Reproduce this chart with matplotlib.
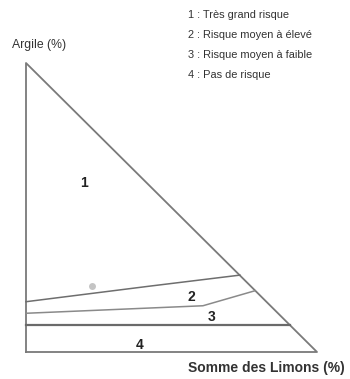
import matplotlib
matplotlib.use("Agg")
import matplotlib.pyplot as plt

# triangle outline: (Limons %, Argile %)
triangle_x = [0, 0, 100, 0]
triangle_y = [0, 100, 0, 0]

# class boundaries
line_a_x = [0, 42.6, 73.5]
line_a_y = [17.4, 22.8, 26.6]
line_b_x = [0, 60.8, 78.7]
line_b_y = [13.4, 16.0, 21.2]
line_c_x = [0, 90.8]
line_c_y = [9.2, 9.2]

zone_labels = ["1", "2", "3", "4"]
zone_x = [19.9, 56.7, 63.8, 39.2]
zone_y = [58.6, 19.0, 12.1, 2.4]

legend_labels = [
    "1 : Très grand risque",
    "2 : Risque moyen à élevé",
    "3 : Risque moyen à faible",
    "4 : Pas de risque",
]

FONT = ["Liberation Sans Narrow", "Liberation Sans", "DejaVu Sans"]
plt.rcParams["font.family"] = FONT

W, H = 350, 379
fig = plt.figure(figsize=(W / 100, H / 100), dpi=100)
ax = fig.add_axes([26 / W, (H - 352) / H, 291 / W, 289 / H])
ax.set_xlim(0, 100)
ax.set_ylim(0, 100)
ax.axis("off")

ax.plot(triangle_x, triangle_y, color="#7a7a7a", lw=1.3, clip_on=False)
ax.plot(line_a_x, line_a_y, color="#6e6e6e", lw=1.1, clip_on=False)
ax.plot(line_b_x, line_b_y, color="#8a8a8a", lw=1.1, clip_on=False)
ax.plot(line_c_x, line_c_y, color="#6a6a6a", lw=1.6, clip_on=False)

# grey smudge in the scan
ax.plot([22.6], [22.8], "o", color="#c4c4c4", ms=5, mec="none")

for lab, x, y in zip(zone_labels, zone_x, zone_y):
    ax.text(x, y, lab, ha="center", va="center", fontsize=10,
            fontweight="bold", color="#222222")

fig.text(12 / W, 1 - 45 / H, "Argile (%)", ha="left", va="center",
         fontsize=8.8, color="#333333")
fig.text(345 / W, 1 - 368 / H, "Somme des Limons (%)", ha="right",
         va="center", fontsize=10, fontweight="bold", color="#333333")

for i, lab in enumerate(legend_labels):
    fig.text(188 / W, 1 - (15 + 20 * i) / H, lab, ha="left", va="center",
             fontsize=7.9, color="#333333")

fig.savefig("out.png", dpi=100, facecolor="white")
